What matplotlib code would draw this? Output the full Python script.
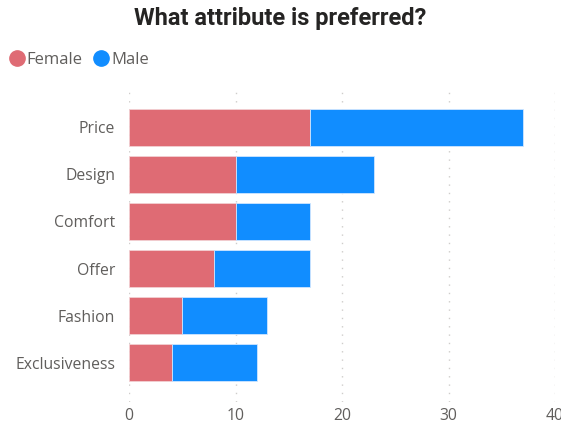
import matplotlib.pyplot as plt
from matplotlib.lines import Line2D

categories = ["Price", "Design", "Comfort", "Offer", "Fashion", "Exclusiveness"]
female = [17, 10, 10, 8, 5, 4]
male = [20, 13, 7, 9, 8, 8]
x_ticks = [0, 10, 20, 30, 40]

female_color = "#DF6B74"
male_color = "#118DFF"
label_color = "#605E5C"

plt.rcParams["font.family"] = ["Open Sans", "DejaVu Sans"]

fig = plt.figure(figsize=(5.61, 4.28), dpi=100)
ax = fig.add_axes([129 / 561, 1 - 402 / 428, (555 - 129) / 561, (402 - 90) / 428])

y = list(range(len(categories)))
ax.barh(y, female, height=0.79, color=female_color, edgecolor="#F2D0D3", linewidth=0.6)
ax.barh(y, male, left=female, height=0.79, color=male_color, edgecolor="#CFE6FF", linewidth=0.6)

ax.set_xlim(0, 40)
ax.set_ylim(len(categories) - 1 + 0.83, -0.79)
ax.set_yticks(y)
ax.set_yticklabels(categories)
ax.set_xticks(x_ticks)

for s in ax.spines.values():
    s.set_visible(False)
ax.tick_params(axis="both", length=0, labelsize=11.3, labelcolor=label_color)
ax.tick_params(axis="y", pad=10)
ax.tick_params(axis="x", pad=4)
ax.grid(axis="x", color="#CFCDCB", linestyle=(0, (1, 5)), linewidth=1.0)
ax.set_axisbelow(True)

fig.text(0.5, 1 - 18 / 428, "What attribute is preferred?", ha="center", va="center",
         fontsize=17, fontweight="bold", color="#252423", family=["Roboto", "DejaVu Sans"])

handles = [
    Line2D([], [], marker="o", linestyle="", markersize=11, color=female_color),
    Line2D([], [], marker="o", linestyle="", markersize=11, color=male_color),
]
fig.legend(handles, ["Female", "Male"], loc="center left", bbox_to_anchor=(0.0, 1 - 60 / 428),
           ncol=2, frameon=False, fontsize=12, handlelength=0.6, handletextpad=0.3,
           columnspacing=0.8, labelcolor=label_color, borderaxespad=0.3)

fig.savefig("out.png", dpi=100)
